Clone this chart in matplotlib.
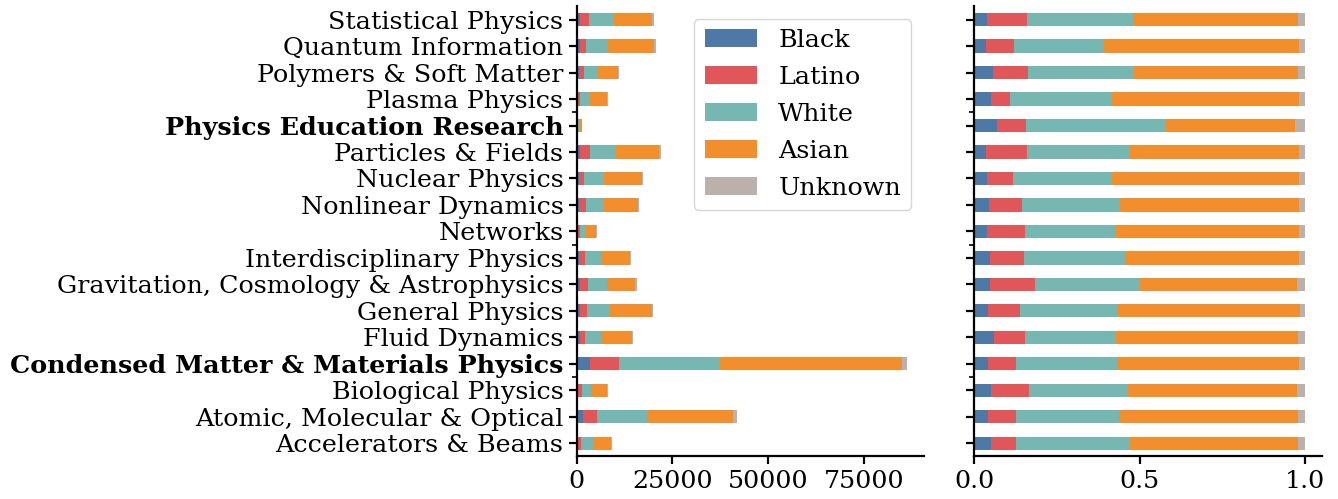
import matplotlib
matplotlib.use("Agg")
import matplotlib.pyplot as plt
import numpy as np

fields = [
    "Accelerators & Beams",
    "Atomic, Molecular & Optical",
    "Biological Physics",
    "Condensed Matter & Materials Physics",
    "Fluid Dynamics",
    "General Physics",
    "Gravitation, Cosmology & Astrophysics",
    "Interdisciplinary Physics",
    "Networks",
    "Nonlinear Dynamics",
    "Nuclear Physics",
    "Particles & Fields",
    "Physics Education Research",
    "Plasma Physics",
    "Polymers & Soft Matter",
    "Quantum Information",
    "Statistical Physics",
]
bold_fields = ["Physics Education Research", "Condensed Matter & Materials Physics"]

groups = ["Black", "Latino", "White", "Asian", "Unknown"]
colors = ["#4e79a7", "#e15759", "#76b7b2", "#f28e2b", "#bab0ac"]

black = [470, 1756, 417, 3540, 881, 836, 755, 680, 203, 731, 674, 792, 90, 412, 640, 744, 786]
latino = [700, 3553, 940, 7515, 1381, 1930, 2139, 1458, 599, 1625, 1366, 2727, 114, 469, 1159, 1758, 2439]
white = [3168, 13042, 2443, 26346, 4040, 5851, 4971, 4333, 1422, 4810, 5170, 6795, 550, 2472, 3511, 5584, 6471]
asian = [4679, 22572, 4175, 47423, 8080, 10985, 7487, 7434, 2892, 8791, 9769, 11281, 507, 4581, 5498, 12222, 10040]
unknown = [193, 878, 196, 1555, 308, 298, 378, 255, 94, 293, 311, 396, 39, 145, 232, 372, 423]

series = [black, latino, white, asian, unknown]

FS = 18.3
plt.rcParams["font.family"] = "DejaVu Serif"
plt.rcParams["font.size"] = FS

fig = plt.figure(figsize=(13.38, 4.99), dpi=100)
ax1 = fig.add_axes([0.431, 0.0852, 0.2596, 0.902])
ax2 = fig.add_axes([0.728, 0.0852, 0.2599, 0.902])

counts = np.array(series, dtype=float)
totals = counts.sum(axis=0)
fracs = counts / totals
y = np.arange(len(fields))

for ax, data in [(ax1, counts), (ax2, fracs)]:
    left = np.zeros(len(fields))
    for g, vals, c in zip(groups, data, colors):
        ax.barh(y, vals, left=left, height=0.5, color=c, label=g, linewidth=0)
        left = left + vals
    ax.set_ylim(-0.5, len(fields) - 0.5)
    ax.set_yticks(y)
    ax.set_yticks([2.5, 7.5, 12.5], minor=True)
    for s in ["top", "right"]:
        ax.spines[s].set_visible(False)
    for s in ["left", "bottom"]:
        ax.spines[s].set_linewidth(1.6)
    ax.tick_params(axis="both", which="major", length=6, width=1.6, labelsize=FS)
    ax.tick_params(axis="y", which="minor", length=3.6, width=1.2)

ax1.set_yticklabels(fields)
for lab in ax1.get_yticklabels():
    if lab.get_text() in bold_fields:
        lab.set_fontweight("bold")
ax2.set_yticklabels([])
ax1.set_xticks([0, 25000, 50000, 75000])
ax2.set_xticks([0.0, 0.5, 1.0])
ax2.set_xticklabels(["0.0", "0.5", "1.0"])

leg = ax1.legend(loc="upper right", fontsize=FS, handlelength=2.05, handleheight=0.7,
                 handletextpad=0.85, labelspacing=0.55, framealpha=0.8,
                 edgecolor="0.8", fancybox=True)

fig.savefig("out.png", dpi=100)
